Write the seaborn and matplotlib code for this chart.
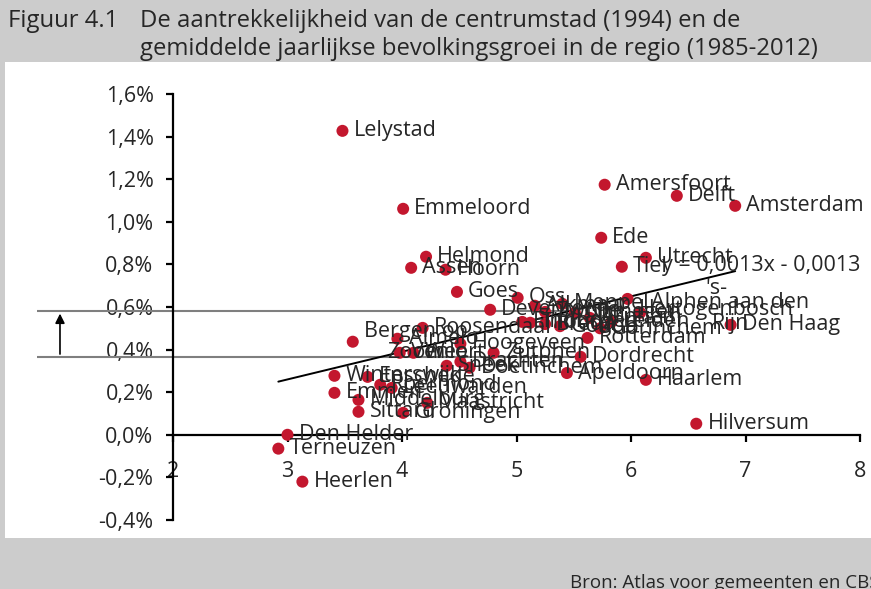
import numpy as np
import pandas as pd
import seaborn as sns
import matplotlib.pyplot as plt
from matplotlib.patches import Rectangle
from matplotlib.ticker import FuncFormatter

# data: attractiveness score (x) and yearly growth in % (y)
cities = ["Lelystad", "Amersfoort", "Delft", "Amsterdam", "Emmeloord", "Ede", "Utrecht", "Tiel",
          "Helmond", "Assen", "Hoorn", "Goes", "Oss", "'s-\nHertogenbosch", "Alphen aan den\nRijn",
          "Den Haag", "Deventer", "Alkmaar", "Zwolle", "Meppel", "Nijmegen", "Arnhem", "Leiden",
          "Eindhoven", "Tilburg", "Breda", "Gouda", "Gorinchem", "Rotterdam", "Dordrecht",
          "Apeldoorn", "Haarlem", "Hilversum", "Bergen op\nZoom", "Roosendaal", "Almelo",
          "Hoogeveen", "Venlo", "Weert", "Zutphen", "Sneek", "Drachten", "Doetinchem",
          "Winterswijk", "Emmen", "Enschede", "Roermond", "Leeuwarden", "Middelburg",
          "Maastricht", "Sittard", "Groningen", "Den Helder", "Terneuzen", "Heerlen"]
attract = [3.48, 5.77, 6.40, 6.91, 4.01, 5.74, 6.13, 5.92,
           4.21, 4.08, 4.38, 4.48, 5.01, 5.97, 6.08,
           6.87, 4.77, 5.16, 5.25, 5.40, 5.51, 5.64, 5.83,
           5.05, 5.12, 5.25, 5.38, 5.73, 5.62, 5.56,
           5.44, 6.13, 6.57, 3.57, 4.18, 3.96,
           4.51, 3.98, 4.10, 4.80, 4.39, 4.51, 4.59,
           3.41, 3.41, 3.70, 3.81, 3.91, 3.62,
           4.22, 3.62, 4.01, 3.00, 2.92, 3.13]
growth_pct = [1.427, 1.174, 1.122, 1.075, 1.061, 0.925, 0.831, 0.789,
              0.836, 0.784, 0.775, 0.671, 0.643, 0.638, 0.573,
              0.516, 0.587, 0.606, 0.577, 0.615, 0.573, 0.549, 0.530,
              0.530, 0.526, 0.520, 0.510, 0.500, 0.455, 0.366,
              0.290, 0.258, 0.052, 0.437, 0.502, 0.451,
              0.427, 0.385, 0.385, 0.385, 0.324, 0.343, 0.315,
              0.277, 0.197, 0.272, 0.235, 0.220, 0.164,
              0.150, 0.108, 0.103, 0.000, -0.065, -0.220]

# trendline as printed in the chart
slope, intercept = 0.0013, -0.0013
# the two reference levels with the arrow
levels = [0.00582, 0.00366]

df = pd.DataFrame({"stad": cities, "x": attract, "y": np.array(growth_pct) / 100})

sns.set_style("white")
plt.rcParams['font.family'] = ['Open Sans', 'DejaVu Sans']

fig = plt.figure(figsize=(8.71, 5.89), dpi=100)
fig.patch.set_facecolor("#cccccc")
fig.patches.append(Rectangle((5 / 871, 1 - 538 / 589), 1, (538 - 62) / 589,
                             transform=fig.transFigure, facecolor="white", edgecolor="none", zorder=-10))

ax = fig.add_axes([173 / 871, 1 - 520 / 589, (860 - 173) / 871, (520 - 94) / 589])
ax.patch.set_alpha(0)

fs = 15.5
red = "#c3172e"
sns.scatterplot(data=df, x="x", y="y", ax=ax, color=red, s=75, edgecolor="none", zorder=3)

for _, r in df.iterrows():
    ax.annotate(r["stad"], (r["x"], r["y"]), xytext=(8, 0), textcoords="offset points",
                ha="left", va="center", multialignment="center", fontsize=fs,
                annotation_clip=False, zorder=4, linespacing=1.0)

# trendline from smallest to largest x
xs = np.array([df["x"].min(), df["x"].max()])
ax.plot(xs, slope * xs + intercept, color="black", lw=1.4, zorder=2)
ax.text(8.0, 0.00795, "y = 0,0013x - 0,0013", ha="right", va="center", fontsize=fs, zorder=5)

# reference lines + arrow on the left
ax.hlines(levels, 0.81, 5.5, color="#7f7f7f", lw=1.5, clip_on=False, zorder=1)
ax.annotate("", xy=(1.013, levels[0]), xytext=(1.013, levels[1]),
            arrowprops=dict(arrowstyle="-|>", color="black", lw=1.2, mutation_scale=14),
            annotation_clip=False)

ax.set_xlim(2, 8)
ax.set_ylim(-0.004, 0.016)
ax.set_xticks(range(2, 9))
ax.set_yticks(np.arange(-0.004, 0.0161, 0.002))
ax.yaxis.set_major_formatter(FuncFormatter(lambda v, p: f"{v * 100:.1f}%".replace(".", ",").replace("-0,0", "0,0")))
ax.set_xlabel("")
ax.set_ylabel("")

for s in ["top", "right"]:
    ax.spines[s].set_visible(False)
ax.spines["bottom"].set_position(("data", 0))
ax.spines["left"].set_color("black")
ax.spines["bottom"].set_color("black")
ax.spines["left"].set_linewidth(1.6)
ax.spines["bottom"].set_linewidth(1.6)
ax.tick_params(axis="both", direction="out", length=5, width=1.6, color="black", labelsize=fs,
               left=True, bottom=True)
ax.tick_params(axis="y", pad=9)
ax.tick_params(axis="x", pad=14)

tfs = 17.2
fig.text(8 / 871, 1 - 21 / 589, "Figuur 4.1", ha="left", va="center", fontsize=tfs)
fig.text(140 / 871, 1 - 21 / 589, "De aantrekkelijkheid van de centrumstad (1994) en de",
         ha="left", va="center", fontsize=tfs)
fig.text(140 / 871, 1 - 49 / 589, "gemiddelde jaarlijkse bevolkingsgroei in de regio (1985-2012)",
         ha="left", va="center", fontsize=tfs)
fig.text(570 / 871, 1 - 583 / 589, "Bron: Atlas voor gemeenten en CBS", ha="left", va="center",
         fontsize=13.5)

fig.savefig("out.png", dpi=100, facecolor=fig.get_facecolor())
